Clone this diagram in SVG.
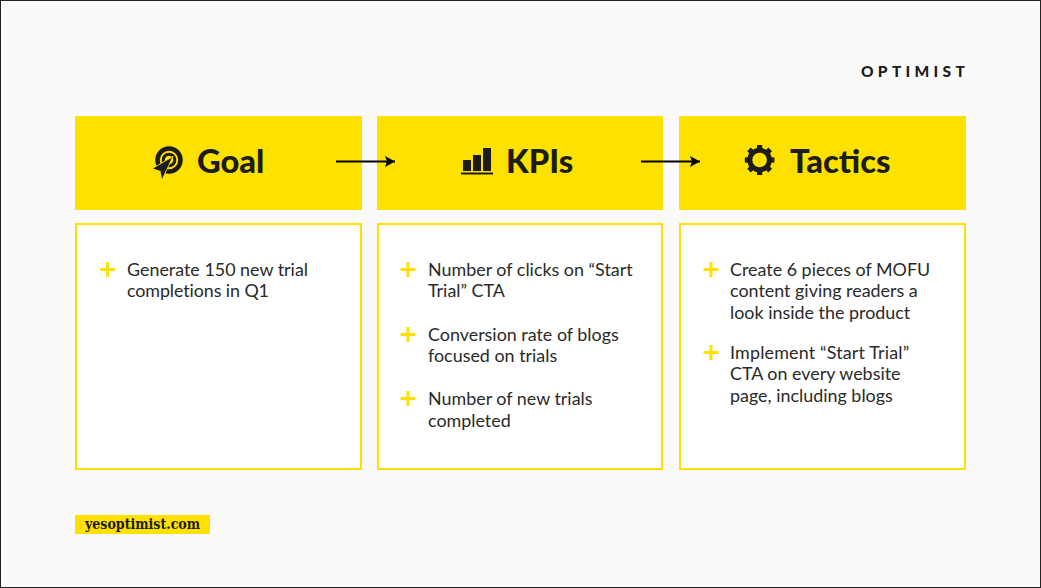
<svg xmlns="http://www.w3.org/2000/svg" width="1041" height="588" viewBox="0 0 1041 588">
<defs>
<marker id="ah" markerUnits="userSpaceOnUse" markerWidth="11" markerHeight="12" refX="10" refY="6" orient="auto"><path d="M0 0.500L10 6L0 11.500L2 6Z" fill="#000"/></marker>
<g id="plus"><rect x="-7.500" y="-1.500" width="15" height="3"/><rect x="-1.500" y="-7.500" width="3" height="15"/></g>
</defs>
<style>
.bar{fill:#ffe100}
.box{fill:#fff;stroke:#ffe100;stroke-width:2}
.h{font-family:Lato,sans-serif;font-weight:900;font-size:32.700px;fill:#1c1c1c}
.t{font-family:Lato,sans-serif;font-size:17.900px;fill:#2a2a2a}
.p{fill:#ffe100}
.ic{fill:#1c1c1c}
.c{stroke:#000;stroke-width:2;fill:none;marker-end:url(#ah)}
</style>
<rect x="0.500" y="0.500" width="1040" height="587" fill="#fafafa" stroke="#222" stroke-width="1"/>
<text id="logo" x="861" y="77" font-family="Lato,sans-serif" font-weight="900" font-size="15.500px" letter-spacing="4.300" fill="#1c1c1c">OPTIMIST</text>
<g id="goal">
<rect class="bar" x="75" y="116" width="287" height="94"/>
<circle cx="169" cy="160" r="11.500" fill="none" stroke="#1c1c1c" stroke-width="4.500"/>
<circle cx="169" cy="160" r="5.800" fill="none" stroke="#1c1c1c" stroke-width="3"/>
<path d="M172 157.500L153 168.500L160.500 171L162 179Z" class="ic" stroke="#ffe100" stroke-width="1.500" paint-order="stroke"/>
<text class="h" x="197" y="173">Goal</text>
</g>
<g id="kpis">
<rect class="bar" x="377" y="116" width="286" height="94"/>
<rect class="ic" x="463" y="160" width="8" height="11"/>
<rect class="ic" x="473" y="155" width="8" height="16"/>
<rect class="ic" x="483" y="148" width="8" height="23"/>
<rect class="ic" x="461" y="172.500" width="32" height="2"/>
<text class="h" x="506" y="173">KPIs</text>
</g>
<g id="tactics">
<rect class="bar" x="679" y="116" width="287" height="94"/>
<circle cx="759.600" cy="160" r="9.800" fill="none" stroke="#1c1c1c" stroke-width="5"/>
<g class="ic">
<rect x="757" y="145" width="5.200" height="4"/>
<rect x="757" y="171" width="5.200" height="4"/>
<rect x="744.800" y="157.400" width="4" height="5.200"/>
<rect x="770.400" y="157.400" width="4" height="5.200"/>
<rect x="757" y="145" width="5.200" height="4" transform="rotate(45 759.600 160)"/>
<rect x="757" y="145" width="5.200" height="4" transform="rotate(135 759.600 160)"/>
<rect x="757" y="145" width="5.200" height="4" transform="rotate(225 759.600 160)"/>
<rect x="757" y="145" width="5.200" height="4" transform="rotate(315 759.600 160)"/>
</g>
<text class="h" x="790" y="173">Tactics</text>
</g>
<g id="connectors">
<path class="c" d="M336 161.500H395"/>
<path class="c" d="M641 161.500H700"/>
</g>
<g id="goal-list">
<rect class="box" x="76" y="224" width="285" height="245"/>
<use href="#plus" class="p" x="107.500" y="269.500"/>
<text class="t" x="127" y="276">Generate 150 new trial</text>
<text class="t" x="127" y="297" letter-spacing="-0.100">completions in Q1</text>
</g>
<g id="kpi-list">
<rect class="box" x="378" y="224" width="284" height="245"/>
<use href="#plus" class="p" x="408" y="269.500"/>
<text class="t" x="428" y="276">Number of clicks on “Start</text>
<text class="t" x="428" y="297">Trial” CTA</text>
<use href="#plus" class="p" x="408" y="334.500"/>
<text class="t" x="428" y="341">Conversion rate of blogs</text>
<text class="t" x="428" y="362">focused on trials</text>
<use href="#plus" class="p" x="408" y="398.500"/>
<text class="t" x="428" y="405">Number of new trials</text>
<text class="t" x="428" y="427">completed</text>
</g>
<g id="tactic-list">
<rect class="box" x="680" y="224" width="285" height="245"/>
<use href="#plus" class="p" x="711" y="269.500"/>
<text class="t" x="730" y="276">Create 6 pieces of MOFU</text>
<text class="t" x="730" y="297">content giving readers a</text>
<text class="t" x="730" y="319">look inside the product</text>
<use href="#plus" class="p" x="711" y="352.500"/>
<text class="t" x="730" y="359" letter-spacing="0.170">Implement “Start Trial”</text>
<text class="t" x="730" y="380">CTA on every website</text>
<text class="t" x="730" y="402">page, including blogs</text>
</g>
<g id="footer">
<rect class="bar" x="75" y="515" width="135" height="19"/>
<text x="85" y="529" font-family="DejaVu Serif Condensed,DejaVu Serif,serif" font-stretch="condensed" font-weight="700" font-size="14px" fill="#1c1c1c">yesoptimist.com</text>
</g>
</svg>
